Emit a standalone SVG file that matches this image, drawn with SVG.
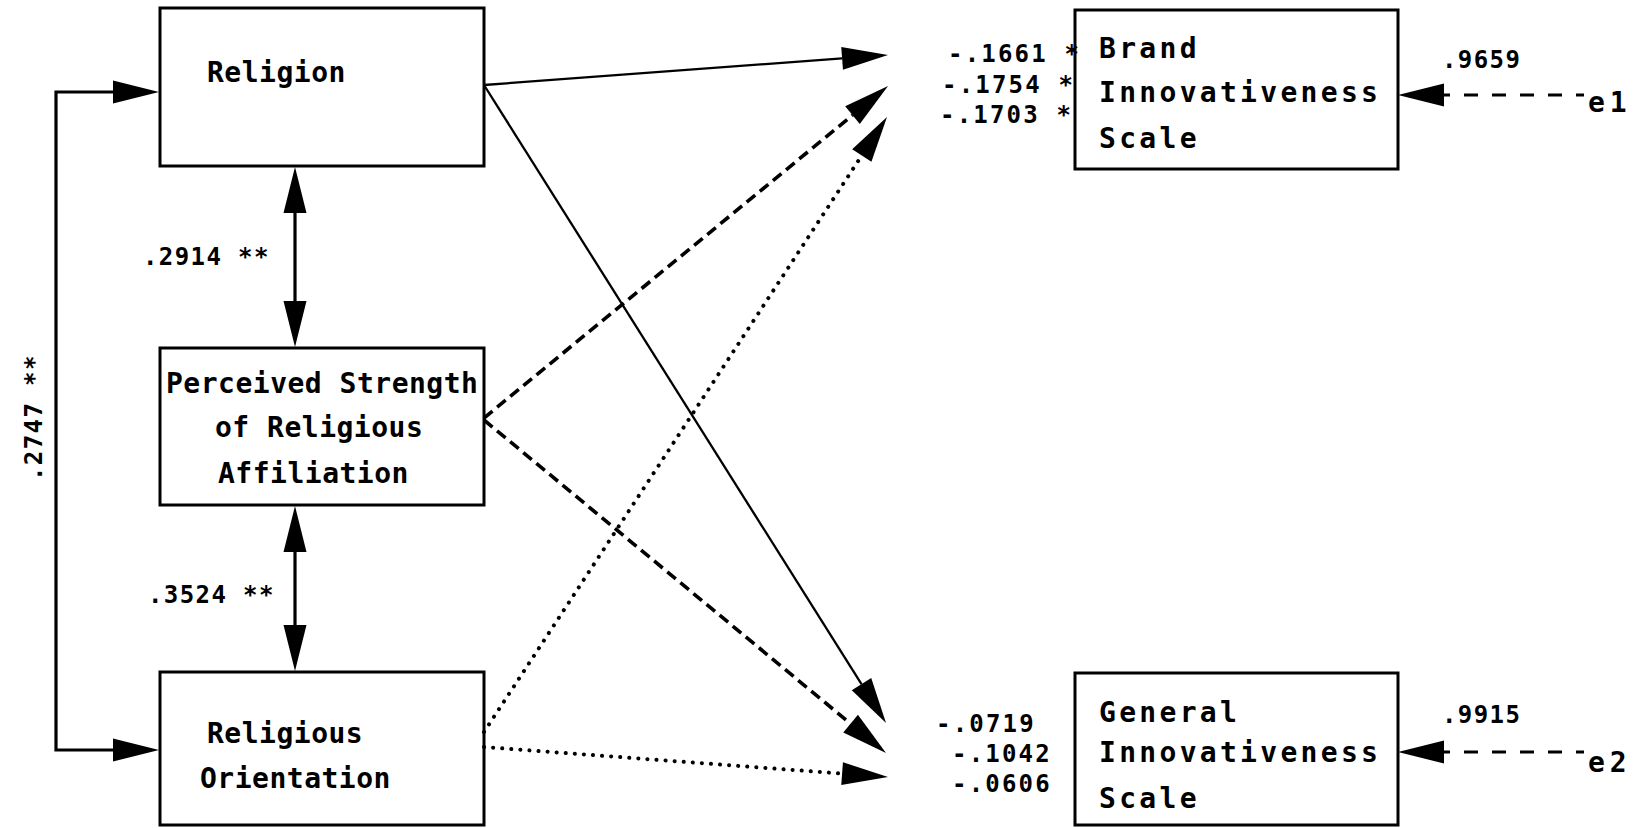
<svg xmlns="http://www.w3.org/2000/svg" width="1644" height="828" viewBox="0 0 1644 828">
  <style>
    .box { fill: none; stroke: #000; stroke-width: 3; }
    .t { font-family: "DejaVu Sans Mono", "Liberation Mono", monospace; font-weight: bold; fill: #000; }
    .tl { font-size: 28px; letter-spacing: 0.5px; }
    .tr { font-size: 28px; letter-spacing: 3.3px; }
    .num { font-size: 24px; letter-spacing: 2.2px; }
    .cor { font-size: 24px; letter-spacing: 1.4px; }
    .err { font-size: 28px; letter-spacing: 5px; }
    .solid { fill: none; stroke: #000; stroke-width: 2.3; }
    .heavy { fill: none; stroke: #000; stroke-width: 3.2; }
    .dash { fill: none; stroke: #000; stroke-width: 3.6; stroke-dasharray: 11 6; }
    .dot { fill: none; stroke: #000; stroke-width: 4; stroke-linecap: round; stroke-dasharray: 0.1 9; }
    .edash { fill: none; stroke: #000; stroke-width: 2.8; stroke-dasharray: 14 14; stroke-dashoffset: 6; }
  </style>
  <defs>
    <marker id="head" markerUnits="userSpaceOnUse" markerWidth="50" markerHeight="30" refX="0" refY="0" orient="auto-start-reverse" overflow="visible">
      <path d="M0,-11.5 L46,0 L0,11.5 z" fill="#000" stroke="none"/>
    </marker>
  </defs>
  <rect x="0" y="0" width="1644" height="828" fill="#fff"/>

  <!-- connectors -->
  <g id="connectors">
    <!-- correlations among the religious variables -->
    <path class="heavy" d="M113,92 H56 V750 H113" marker-start="url(#head)" marker-end="url(#head)"/>
    <path class="heavy" d="M295,213 V301" marker-start="url(#head)" marker-end="url(#head)"/>
    <path class="heavy" d="M295,552 V625" marker-start="url(#head)" marker-end="url(#head)"/>
    <!-- paths to Brand Innovativeness Scale -->
    <path class="solid" d="M484,85 L842.1,58.4" marker-end="url(#head)"/>
    <path class="dash" d="M484,418 L852.5,115.2" marker-end="url(#head)"/>
    <path class="dot" d="M484,732 L861.8,155.5" marker-end="url(#head)"/>
    <!-- paths to General Innovativeness Scale -->
    <path class="solid" d="M484,85 L861.5,684.1" marker-end="url(#head)"/>
    <path class="dash" d="M484,420 L850.6,723.7" marker-end="url(#head)"/>
    <path class="dot" d="M484,747 L842.1,773.6" marker-end="url(#head)"/>
    <!-- error terms -->
    <path class="edash" d="M1584,95 H1444" marker-end="url(#head)"/>
    <path class="edash" d="M1584,752 H1444" marker-end="url(#head)"/>
  </g>

  <!-- coefficient labels -->
  <g id="labels">
    <text class="t cor" x="143" y="265">.2914 **</text>
    <text class="t cor" x="148" y="603">.3524 **</text>
    <text class="t cor" transform="translate(42,481) rotate(-90)">.2747 **</text>
    <text class="t num" x="948" y="62">-.1661 *</text>
    <text class="t num" x="942" y="93">-.1754 *</text>
    <text class="t num" x="940" y="123">-.1703 *</text>
    <text class="t num" x="936" y="732">-.0719</text>
    <text class="t num" x="952" y="762">-.1042</text>
    <text class="t num" x="952" y="792">-.0606</text>
    <text class="t cor" x="1442" y="68">.9659</text>
    <text class="t cor" x="1442" y="723">.9915</text>
    <text class="t err" x="1588" y="112">e1</text>
    <text class="t err" x="1588" y="772">e2</text>
  </g>

  <g id="religion">
    <rect class="box" x="160" y="8" width="324" height="158"/>
    <text class="t tl" x="207" y="82">Religion</text>
  </g>

  <g id="affiliation">
    <rect class="box" x="160" y="348" width="324" height="157"/>
    <text class="t tl" x="166" y="393">Perceived Strength</text>
    <text class="t tl" x="215" y="437">of Religious</text>
    <text class="t tl" x="218" y="483">Affiliation</text>
  </g>

  <g id="orientation">
    <rect class="box" x="160" y="672" width="324" height="153"/>
    <text class="t tl" x="207" y="743">Religious</text>
    <text class="t tl" x="200" y="788">Orientation</text>
  </g>

  <g id="brand">
    <rect class="box" x="1075" y="10" width="323" height="159"/>
    <text class="t tr" x="1099" y="58">Brand</text>
    <text class="t tr" x="1099" y="102">Innovativeness</text>
    <text class="t tr" x="1099" y="148">Scale</text>
  </g>

  <g id="general">
    <rect class="box" x="1075" y="673" width="323" height="152"/>
    <text class="t tr" x="1099" y="722">General</text>
    <text class="t tr" x="1099" y="762">Innovativeness</text>
    <text class="t tr" x="1099" y="808">Scale</text>
  </g>
</svg>
